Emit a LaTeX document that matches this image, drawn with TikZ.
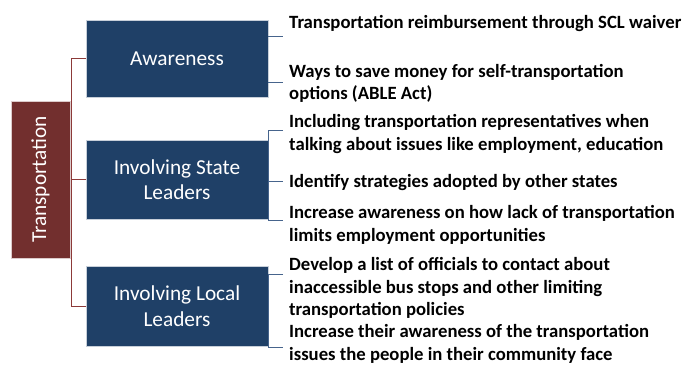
\documentclass[tikz,border=0pt]{standalone}
\usepackage{fontspec}
\setmainfont{Carlito}
\definecolor{boxblue}{RGB}{31,64,103}
\definecolor{boxred}{RGB}{114,47,46}
\definecolor{lineblue}{RGB}{70,100,140}
\definecolor{linered}{RGB}{140,58,57}
\tikzset{
  catbox/.style={draw=white!75!boxblue, line width=0.7pt, fill=boxblue, text=white, minimum width=182pt, align=center, inner sep=2pt, font=\fontsize{21.3}{25.5}\selectfont},
  rootbox/.style={draw=white!75!boxred, line width=0.7pt, fill=boxred, text=white, rotate=90, minimum width=157pt, minimum height=59pt, inner sep=0pt, font=\fontsize{21.3}{25.5}\selectfont},
  item/.style={anchor=west, align=left, inner xsep=6pt, inner ysep=0pt, font=\bfseries\fontsize{18.7}{22.5}\selectfont},
  redline/.style={draw=linered, line width=1pt},
  blueline/.style={draw=lineblue, line width=1pt},
}
\begin{document}
\begin{tikzpicture}[x=1pt,y=1pt]
\useasboundingbox (0,0) rectangle (685,-364);
% root
\node[rootbox] (trans) at (40.5,-179.5) {Transportation};
% categories
\node[catbox, minimum height=77pt] (aw) at (177,-58.5) {Awareness};
\node[catbox, minimum height=79pt] (st) at (177,-179.5) {Involving State\\Leaders};
\node[catbox, minimum height=80pt] (lo) at (177,-306) {Involving Local\\Leaders};
% items
\node[item] (i1) at (283,-23.5) {Transportation reimbursement through SCL waiver};
\node[item] (i2) at (283,-83.5) {Ways to save money for self-transportation\\options (ABLE Act)};
\node[item] (i3) at (283,-134) {Including transportation representatives when\\talking about issues like employment, education};
\node[item] (i4) at (283,-182.5) {Identify strategies adopted by other states};
\node[item] (i5) at (283,-225) {Increase awareness on how lack of transportation\\limits employment opportunities};
\node[item] (i6) at (283,-288) {Develop a list of officials to contact about\\inaccessible bus stops and other limiting\\transportation policies};
\node[item] (i7) at (283,-344) {Increase their awareness of the transportation\\issues the people in their community face};
% tick points
\coordinate (c1) at (283,-36);
\coordinate (c2) at (283,-82);
\coordinate (c3) at (283,-130);
\coordinate (c4) at (283,-181);
\coordinate (c5) at (283,-220);
\coordinate (c6) at (283,-274);
\coordinate (c7) at (283,-347);
% red connectors
\coordinate (rx) at (71,0);
\draw[redline] (aw.west) -- (aw.west -| rx) -- (lo.west -| rx) -- (lo.west);
\draw[redline] (st.west -| rx) -- (st.west);
% blue connectors
\draw[blueline] (c1 -| aw.east) -- (c1);
\draw[blueline] (c2 -| aw.east) -- (c2);
\draw[blueline] (c3) -- (c3 -| st.east) -- (c5 -| st.east) -- (c5);
\draw[blueline] (c4 -| st.east) -- (c4);
\draw[blueline] (c6) -- (c6 -| lo.east) -- (c7 -| lo.east) -- (c7);
\end{tikzpicture}
\end{document}
